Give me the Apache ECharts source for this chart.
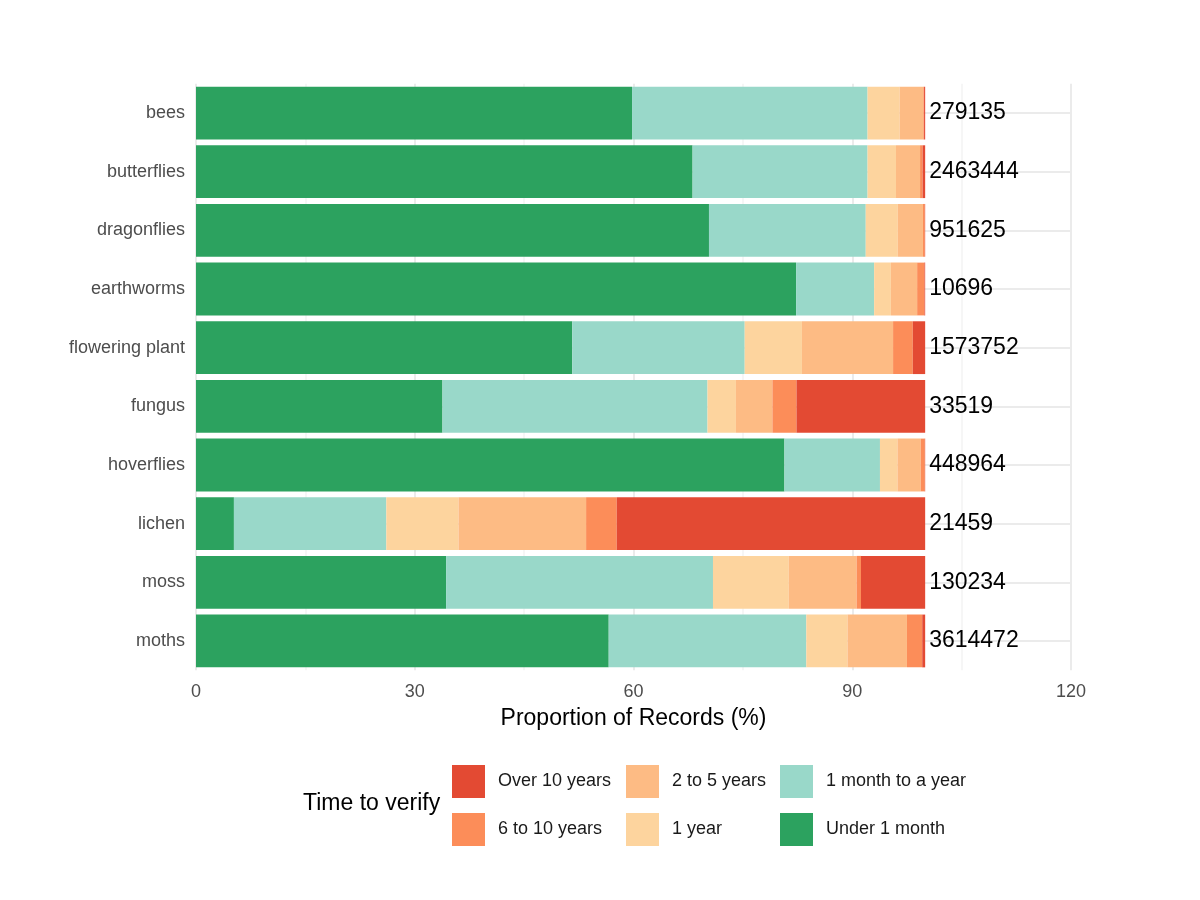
<!DOCTYPE html>
<html lang="en">
	<head>
		<meta charset="UTF-8">
		<title>Time to verify</title>
		<script src="https://cdn.jsdelivr.net/npm/echarts@6/dist/echarts.min.js"></script>
		<style>
			html, body { margin: 0; padding: 0; background: #fff; }
			#main { width: 1200px; height: 900px; }
		</style>
	</head>
	<body>
		<div id="main"></div>
		<script type="text/javascript">
			var groups = ['bees', 'butterflies', 'dragonflies', 'earthworms', 'flowering plant',
				'fungus', 'hoverflies', 'lichen', 'moss', 'moths'];
			var recordCounts = [279135, 2463444, 951625, 10696, 1573752, 33519, 448964, 21459, 130234, 3614472];

			// proportion of records (%) per verification time band
			var under1Month = [59.8, 68.1, 70.35, 82.3, 51.6, 33.8, 80.7, 5.2, 34.3, 56.6];
			var monthToYear = [32.3, 24.0, 21.5, 10.7, 23.65, 36.35, 13.1, 20.9, 36.6, 27.1];
			var oneYear = [4.4, 3.9, 4.4, 2.3, 7.85, 3.9, 2.4, 9.9, 10.4, 5.65];
			var twoToFive = [3.25, 3.3, 3.45, 3.6, 12.5, 5.0, 3.2, 17.5, 9.3, 8.15];
			var sixToTen = [0.1, 0.35, 0.25, 1.0, 2.7, 3.3, 0.55, 4.2, 0.6, 2.1];
			var over10 = [0.15, 0.35, 0.05, 0.1, 1.7, 17.65, 0.05, 42.3, 8.8, 0.4];

			var xTicks = [0, 30, 60, 90, 120];

			var font = 'Liberation Sans, Arial, sans-serif';
			var colors = {
				'Over 10 years': '#E34A33',
				'6 to 10 years': '#FC8D59',
				'2 to 5 years': '#FDBB84',
				'1 year': '#FDD49E',
				'1 month to a year': '#99D8C9',
				'Under 1 month': '#2CA25F'
			};

			function barSeries(name, values, withLabel) {
				var s = {
					name: name,
					type: 'bar',
					stack: 'total',
					barCategoryGap: '10%',
					z: 3,
					itemStyle: { color: colors[name] },
					emphasis: { disabled: true },
					data: values
				};
				if (withLabel) {
					s.label = {
						show: true,
						position: 'right',
						distance: 4,
						fontFamily: font,
						fontSize: 23,
						color: '#000',
						formatter: function (p) { return recordCounts[p.dataIndex]; }
					};
				}
				return s;
			}

			function legendColumn(left, names) {
				return {
					orient: 'vertical',
					left: left,
					top: 765,
					padding: 0,
					itemWidth: 33,
					itemHeight: 33,
					itemGap: 15,
					icon: 'rect',
					selectedMode: false,
					textStyle: {
						fontFamily: font,
						fontSize: 18,
						color: '#1a1a1a',
						padding: [0, 0, 0, 8]
					},
					data: names
				};
			}

			var myChart = echarts.init(document.getElementById('main'));
			var option = {
				backgroundColor: '#fff',
				animation: false,
				title: {
					text: 'Time to verify',
					left: 303,
					top: 792,
					padding: 0,
					textStyle: { fontFamily: font, fontSize: 23, fontWeight: 'normal', color: '#000' }
				},
				legend: [
					legendColumn(452, ['Over 10 years', '6 to 10 years']),
					legendColumn(626, ['2 to 5 years', '1 year']),
					legendColumn(780, ['1 month to a year', 'Under 1 month'])
				],
				grid: {
					left: 196,
					right: 129,
					top: 83.7,
					bottom: 229.7
				},
				xAxis: {
					type: 'value',
					min: xTicks[0],
					max: xTicks[xTicks.length - 1],
					interval: 30,
					name: 'Proportion of Records (%)',
					nameLocation: 'middle',
					nameGap: 37,
					nameTextStyle: { fontFamily: font, fontSize: 23, color: '#000' },
					axisLine: { show: false },
					axisTick: { show: false },
					minorTick: { show: false, splitNumber: 2 },
					axisLabel: { fontFamily: font, fontSize: 18, color: '#4d4d4d', margin: 13 },
					splitLine: { lineStyle: { color: '#ebebeb', width: 2 } },
					minorSplitLine: { show: true, lineStyle: { color: '#f3f3f3', width: 1.5 } }
				},
				yAxis: {
					type: 'category',
					inverse: true,
					data: groups,
					axisLine: { show: false },
					axisTick: { show: false },
					splitLine: { show: false },
					axisLabel: { fontFamily: font, fontSize: 18, color: '#4d4d4d', margin: 11 }
				},
				series: [
					{
						type: 'line',
						data: [],
						z: 1,
						silent: true,
						markLine: {
							silent: true,
							z: 1,
							symbol: 'none',
							label: { show: false },
							emphasis: { disabled: true },
							lineStyle: { color: '#ebebeb', width: 2, type: 'solid' },
							data: groups.map(function (g, i) { return { yAxis: i }; })
						}
					},
					barSeries('Under 1 month', under1Month),
					barSeries('1 month to a year', monthToYear),
					barSeries('1 year', oneYear),
					barSeries('2 to 5 years', twoToFive),
					barSeries('6 to 10 years', sixToTen),
					barSeries('Over 10 years', over10, true)
				]
			};
			myChart.setOption(option);
		</script>
	</body>
</html>
